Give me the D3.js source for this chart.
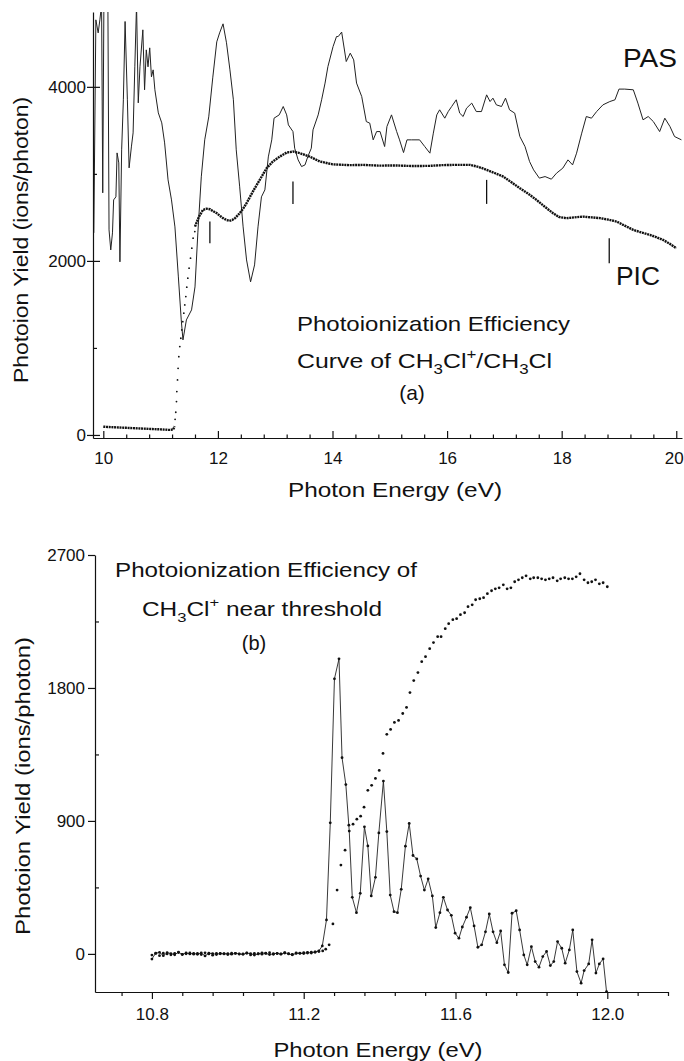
<!DOCTYPE html>
<html>
<head>
<meta charset="utf-8">
<script src="https://cdn.jsdelivr.net/npm/d3@7"></script>
<style>
  body { margin: 0; background: #fff; }
  svg text { font-family: "Liberation Sans", Arial, sans-serif; fill: #111; }
  .axis path, .axis line { stroke: #111; stroke-width: 1.2; }
</style>
</head>
<body>
<div id="chart"></div>
<script>
// ---------- panel (a): 10-20 eV ----------
// PAS, [energy eV, ions/photon]
const pasA = [
  [9.834,2322],[9.87,4770],[9.91,4620],[9.94,4770],[9.97,4950],[9.99,2782],[10.01,4950],[10.04,4950],
  [10.08,4950],[10.10,2356],[10.13,2126],[10.16,2322],[10.18,2701],[10.22,2736],[10.24,3241],[10.27,3126],
  [10.29,1989],[10.32,3276],[10.35,3851],[10.38,4751],[10.42,3851],[10.45,3069],[10.49,3310],[10.52,3471],
  [10.55,4230],[10.58,4950],[10.61,3816],[10.64,4230],[10.69,4655],[10.72,3966],[10.75,4425],[10.78,4230],
  [10.81,4448],[10.84,4115],[10.87,4195],[10.90,3966],[10.96,3701],[11.02,3586],[11.07,3356],[11.13,2931],
  [11.19,2701],[11.25,2391],[11.31,1816],[11.36,1322],[11.39,1092],[11.45,1322],[11.54,1437],[11.60,1701],
  [11.65,2322],[11.71,2966],[11.77,3391],[11.84,3655],[11.91,4103],[11.98,4517],[12.03,4620],[12.09,4724],
  [12.15,4506],[12.21,4195],[12.27,3851],[12.32,3276],[12.38,2851],[12.44,2391],[12.50,2011],[12.57,1759],
  [12.64,1954],[12.70,2391],[12.76,2736],[12.82,2816],[12.88,3195],[12.94,3391],[12.98,3640],[13.07,3678],
  [13.14,3774],[13.20,3678],[13.23,3563],[13.31,3486],[13.34,3295],[13.40,3161],[13.46,3084],[13.52,3103],
  [13.57,3199],[13.63,3295],[13.66,3506],[13.75,3678],[13.81,3851],[13.87,4043],[13.92,4233],[14.01,4463],
  [14.07,4578],[14.10,4578],[14.16,4629],[14.24,4291],[14.31,4387],[14.37,4310],[14.42,4043],[14.51,3889],
  [14.59,3601],[14.65,3583],[14.71,3391],[14.77,3486],[14.83,3486],[14.91,3314],[14.95,3544],[15.03,3678],
  [15.12,3486],[15.17,3391],[15.24,3245],[15.30,3391],[15.38,3391],[15.52,3391],[15.61,3314],[15.70,3238],
  [15.76,3468],[15.82,3678],[15.87,3736],[15.96,3640],[16.02,3716],[16.08,3774],[16.16,3851],[16.22,3698],
  [16.28,3659],[16.34,3755],[16.43,3813],[16.51,3716],[16.60,3716],[16.69,3908],[16.75,3831],[16.80,3870],
  [16.86,3793],[16.95,3774],[17.02,3870],[17.09,3736],[17.18,3698],[17.27,3429],[17.36,3314],[17.44,3141],
  [17.51,3046],[17.61,2951],[17.71,2969],[17.82,2939],[17.91,3008],[18.02,3066],[18.11,3161],[18.19,3103],
  [18.26,3238],[18.35,3468],[18.43,3659],[18.52,3640],[18.61,3716],[18.72,3793],[18.84,3831],[18.93,3851],
  [19.00,3974],[19.10,3974],[19.25,3966],[19.33,3813],[19.42,3621],[19.51,3659],[19.60,3601],[19.71,3486],
  [19.80,3640],[19.89,3544],[19.97,3429],[20.09,3391]
];
// PIC below threshold (dense band)
const picLowA = [[10.0,95],[10.2,88],[10.4,82],[10.6,76],[10.8,70],[11.0,64],[11.15,58],[11.22,62],[11.245,100]];
// PIC threshold rise (separate dots)
const picRiseA = [
  [11.253,180],[11.265,261],[11.277,383],[11.283,498],[11.295,632],[11.305,766],[11.318,900],[11.335,1015],
  [11.353,1111],[11.37,1207],[11.387,1302],[11.405,1399],[11.422,1494],[11.44,1590],[11.457,1698],[11.475,1801],
  [11.497,1916],[11.522,2031],[11.545,2146],[11.567,2261],[11.597,2337]
];
// PIC above threshold (dense band)
const picHighA = [
  [11.60,2394],[11.67,2509],[11.74,2586],[11.80,2600],[11.86,2594],[11.92,2570],[11.98,2548],[12.04,2515],
  [12.09,2491],[12.15,2470],[12.20,2460],[12.25,2470],[12.30,2491],[12.38,2548],[12.44,2600],[12.50,2663],
  [12.61,2797],[12.73,2931],[12.85,3065],[12.96,3142],[13.08,3199],[13.20,3245],[13.31,3256],[13.43,3238],
  [13.60,3199],[13.78,3142],[14.00,3110],[14.30,3100],[14.53,3103],[14.80,3095],[15.12,3096],[15.40,3090],
  [15.70,3092],[15.90,3100],[16.10,3103],[16.40,3103],[16.55,3080],[16.69,3046],[16.83,3010],[16.98,2969],
  [17.13,2900],[17.27,2835],[17.42,2770],[17.56,2701],[17.70,2625],[17.85,2548],[17.95,2505],[18.08,2491],
  [18.22,2500],[18.37,2509],[18.52,2500],[18.67,2491],[18.81,2475],[18.96,2452],[19.10,2405],[19.25,2356],
  [19.40,2325],[19.54,2299],[19.66,2270],[19.77,2241],[19.88,2200],[20.00,2146]
];
// threshold markers [energy, lower, upper]
const picMarksA = [[11.86,2203,2452],[13.31,2655,2912],[16.69,2655,2931],[18.83,1974,2261]];

const xMajorA = [10, 12, 14, 16, 18, 20];
const xMinorA = [10.4,10.8,11.2,11.6,12.4,12.8,13.2,13.6,14.4,14.8,15.2,15.6,16.4,16.8,17.2,17.6,18.4,18.8,19.2,19.6];
const yMajorA = [0, 2000, 4000];
const yMinorA = [1000, 3000];

// ---------- panel (b): near threshold ----------
const flatEnergyB = [10.80,10.81,10.82,10.83,10.84,10.85,10.86,10.87,10.88,10.89,10.90,10.91,10.92,10.93,10.94,
  10.95,10.96,10.97,10.98,10.99,11.00,11.01,11.02,11.03,11.04,11.05,11.06,11.07,11.08,11.09,11.10,11.11,11.12,
  11.13,11.14,11.15,11.16,11.17,11.18,11.19,11.20,11.21,11.22,11.23,11.24];
const pasFlatB = [-35,5,10,-12,8,2,-6,12,-4,6,0,4,-3,7,-14,5,2,-4,3,0,1,-2,4,0,-3,5,2,-8,0,6,3,-5,1,4,-2,8,0,-6,3,5,2,10,6,14,20];
const picFlatB = [-8,3,-12,5,0,-6,4,9,-3,1,6,-2,3,-5,7,0,-9,4,1,2,-4,5,3,-1,0,6,-7,4,1,-2,5,8,-3,2,0,6,2,-4,7,4,9,6,12,11,16];
const pasRiseB = [
  [11.249,54],[11.260,230],[11.270,887],[11.281,1862],[11.293,1997],[11.301,1328],[11.311,1146],[11.320,831],
  [11.328,383],[11.339,279],[11.349,410],[11.360,860],[11.369,731],[11.378,392],[11.389,518],[11.398,819],
  [11.410,1170],[11.419,828],[11.428,398],[11.438,286],[11.447,279],[11.457,437],[11.468,729],[11.478,883],
  [11.488,666],[11.498,643],[11.508,527],[11.518,432],[11.528,508],[11.539,392],[11.548,178],[11.559,279],
  [11.568,383],[11.579,297],[11.589,261],[11.599,140],[11.609,106],[11.618,182],[11.629,248],[11.639,313],
  [11.649,189],[11.659,45],[11.669,61],[11.679,149],[11.689,270],[11.699,149],[11.709,76],[11.719,155],
  [11.729,-74],[11.739,-126],[11.749,275],[11.760,292],[11.769,162],[11.780,-7],[11.789,-74],[11.800,49],
  [11.810,-52],[11.820,-90],[11.830,-18],[11.840,16],[11.850,-79],[11.859,-52],[11.869,83],[11.880,38],
  [11.889,-63],[11.900,27],[11.909,162],[11.920,-120],[11.931,-198],[11.939,-113],[11.951,-68],[11.960,95],
  [11.970,-130],[11.979,-68],[11.989,-34],[11.998,-255]
];
const picRiseB = [
  [11.250,20],[11.258,32],[11.267,61],[11.277,203],[11.288,432],[11.298,601],[11.309,702],[11.319,871],
  [11.330,878],[11.340,912],[11.350,932],[11.359,993],[11.369,1107],[11.379,1141],[11.389,1188],[11.399,1242],
  [11.409,1357],[11.419,1486],[11.429,1519],[11.439,1567],[11.450,1580],[11.461,1627],[11.471,1668],[11.480,1769],
  [11.490,1850],[11.501,1904],[11.511,1978],[11.521,2012],[11.532,2066],[11.542,2107],[11.553,2147],[11.562,2147],
  [11.573,2201],[11.582,2235],[11.593,2262],[11.603,2269],[11.613,2296],[11.624,2309],[11.633,2350],[11.644,2363],
  [11.653,2397],[11.664,2404],[11.674,2411],[11.684,2438],[11.695,2458],[11.705,2471],[11.715,2478],[11.726,2498],
  [11.736,2471],[11.746,2478],[11.756,2519],[11.766,2532],[11.776,2546],[11.786,2559],[11.797,2539],[11.806,2546],
  [11.817,2546],[11.827,2539],[11.837,2532],[11.847,2539],[11.857,2546],[11.868,2525],[11.877,2539],[11.888,2546],
  [11.898,2539],[11.908,2539],[11.918,2552],[11.928,2573],[11.939,2532],[11.949,2512],[11.959,2519],[11.969,2532],
  [11.979,2505],[11.989,2512],[12.000,2485]
];
const xMajorB = [10.8, 11.2, 11.6, 12.0];
const xMinorB = [10.72,10.88,10.96,11.04,11.12,11.28,11.36,11.44,11.52,11.68,11.76,11.84,11.92,12.08,12.16];
const yMajorB = [0, 900, 1800, 2700];
const yMinorB = [450, 1350, 2250];

const pasB = flatEnergyB.map((e, i) => [e, pasFlatB[i]]).concat(pasRiseB);
const picB = flatEnergyB.map((e, i) => [e, picFlatB[i]]).concat(picRiseB);

const svg = d3.select("#chart").append("svg")
    .attr("width", 684).attr("height", 1061);

// tekst met sub/superscript, uitgerekt tot de gemeten breedte
function label(x, y, size, len, parts, anchor) {
  const t = svg.append("text").attr("x", x).attr("y", y)
      .attr("font-size", size)
      .attr("text-anchor", anchor || "start");
  if (len) t.attr("textLength", len).attr("lengthAdjust", "spacingAndGlyphs");
  parts.forEach(p => {
    const s = t.append("tspan").text(p.t);
    if (p.sub) s.attr("font-size", size * 0.68).attr("dy", p.sub);
    if (p.back) s.attr("dy", p.back);
  });
  return t;
}

// axis font has to be set after d3 has called the axis
function axisFont(g) {
  g.attr("font-family", "Liberation Sans, Arial, sans-serif").attr("font-size", 17);
  g.selectAll("text").attr("fill", "#111");
}

// ================= panel (a) =================
const xA = d3.scaleLinear().domain([9.82, 20.1]).range([93, 682]);
const yA = d3.scaleLinear().domain([-35, 4860]).range([438, 12]);

svg.append("clipPath").attr("id", "clipA")
  .append("rect").attr("x", 93).attr("y", 12).attr("width", 591).attr("height", 426);

const lineA = d3.line().x(d => xA(d[0])).y(d => yA(d[1]));

svg.append("path").datum(pasA)
    .attr("clip-path", "url(#clipA)")
    .attr("d", lineA)
    .attr("fill", "none").attr("stroke", "#222").attr("stroke-width", 1);

[picLowA, picHighA].forEach(s => {
  svg.append("path").datum(s)
      .attr("d", lineA)
      .attr("fill", "none").attr("stroke", "#111")
      .attr("stroke-width", 2.4).attr("stroke-dasharray", "2,0.7");
});

svg.append("g").selectAll("circle").data(picRiseA).enter().append("circle")
    .attr("cx", d => xA(d[0])).attr("cy", d => yA(d[1])).attr("r", 0.9).attr("fill", "#111");

svg.append("g").selectAll("line").data(picMarksA).enter().append("line")
    .attr("x1", d => xA(d[0])).attr("x2", d => xA(d[0]))
    .attr("y1", d => yA(d[1])).attr("y2", d => yA(d[2]))
    .attr("stroke", "#111").attr("stroke-width", 1.3);

// x axis (a), ticks pointing inward
const gxA = svg.append("g").attr("class", "axis").attr("transform", "translate(0,438)");
gxA.call(d3.axisBottom(xA).tickValues(xMajorA).tickSize(-7).tickSizeOuter(0).tickPadding(14).tickFormat(d3.format("d")));
gxA.append("g").call(d3.axisBottom(xA).tickValues(xMinorA).tickSize(-3.5).tickFormat(""))
   .select(".domain").remove();
axisFont(gxA);
// last label sits against the right edge
gxA.selectAll(".tick text").filter(d => d === 20).attr("text-anchor", "end").attr("x", 7);

// y axis (a)
const gyA = svg.append("g").attr("class", "axis").attr("transform", "translate(93,0)");
gyA.call(d3.axisLeft(yA).tickValues(yMajorA).tickSize(6).tickSizeOuter(0).tickPadding(1).tickFormat(d3.format("d")));
gyA.append("g").call(d3.axisLeft(yA).tickValues(yMajorA).tickSize(-7).tickFormat(""))
   .select(".domain").remove();
gyA.append("g").call(d3.axisLeft(yA).tickValues(yMinorA).tickSize(-4).tickFormat(""))
   .select(".domain").remove();
axisFont(gyA);

label(623, 67, 25, 54, [{t: "PAS"}]);
label(616, 285, 25, 44, [{t: "PIC"}]);
label(297, 331, 21, 273, [{t: "Photoionization Efficiency"}]);
label(297, 368, 21, 255, [
  {t: "Curve of CH"}, {t: "3", sub: 6}, {t: "Cl", back: -6}, {t: "+", sub: -9},
  {t: "/CH", back: 9}, {t: "3", sub: 6}, {t: "Cl", back: -6}]);
label(412, 400, 21, null, [{t: "(a)"}], "middle");
label(395, 497, 21, 214, [{t: "Photon Energy (eV)"}], "middle");
label(0, 0, 21, 286, [{t: "Photoion Yield (ions/photon)"}], "middle")
    .attr("transform", "translate(28,240) rotate(-90)");

// ================= panel (b) =================
const xB = d3.scaleLinear().domain([10.65, 12.16]).range([95, 668]);
const yB = d3.scaleLinear().domain([-258, 2700]).range([992, 555]);

const lineB = d3.line().x(d => xB(d[0])).y(d => yB(d[1]));

svg.append("path").datum(pasB)
    .attr("d", lineB)
    .attr("fill", "none").attr("stroke", "#222").attr("stroke-width", 0.9);

svg.append("g").selectAll("circle").data(pasB).enter().append("circle")
    .attr("cx", d => xB(d[0])).attr("cy", d => yB(d[1])).attr("r", 1.4).attr("fill", "#111");

svg.append("g").selectAll("circle").data(picB).enter().append("circle")
    .attr("cx", d => xB(d[0])).attr("cy", d => yB(d[1])).attr("r", 1.4).attr("fill", "#111");

const gxB = svg.append("g").attr("class", "axis").attr("transform", "translate(0,992)");
gxB.call(d3.axisBottom(xB).tickValues(xMajorB).tickSize(7).tickSizeOuter(0).tickPadding(9).tickFormat(d3.format(".1f")));
gxB.append("g").call(d3.axisBottom(xB).tickValues(xMinorB).tickSize(4).tickFormat(""))
   .select(".domain").remove();
axisFont(gxB);

const gyB = svg.append("g").attr("class", "axis").attr("transform", "translate(95,0)");
gyB.call(d3.axisLeft(yB).tickValues(yMajorB).tickSize(7).tickSizeOuter(0).tickPadding(3).tickFormat(d3.format("d")));
gyB.append("g").call(d3.axisLeft(yB).tickValues(yMinorB).tickSize(-4).tickFormat(""))
   .select(".domain").remove();
axisFont(gyB);

label(115, 577, 20, 302, [{t: "Photoionization Efficiency of"}]);
label(142, 616, 20, 240, [
  {t: "CH"}, {t: "3", sub: 6}, {t: "Cl", back: -6}, {t: "+", sub: -9}, {t: " near threshold", back: 9}]);
label(254, 650, 20, null, [{t: "(b)"}], "middle");
label(378, 1057, 21, 209, [{t: "Photon Energy (eV)"}], "middle");
label(0, 0, 21, 298, [{t: "Photoion Yield (ions/photon)"}], "middle")
    .attr("transform", "translate(30,786) rotate(-90)");
</script>
</body>
</html>
